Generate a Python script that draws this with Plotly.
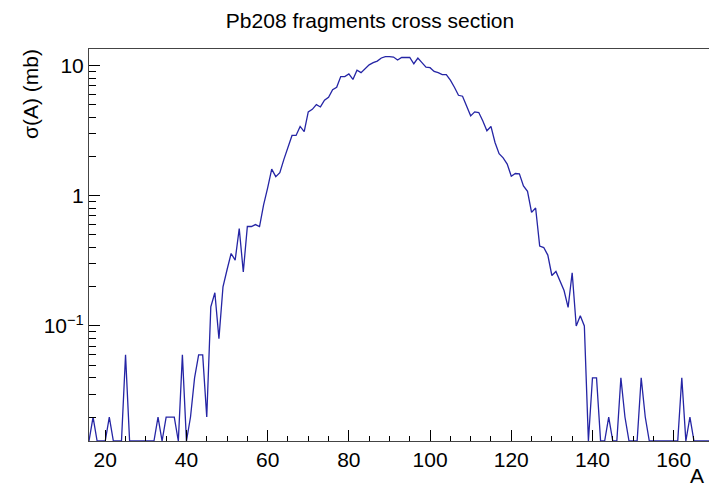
import plotly.graph_objects as go

# ---- data ----
A_first = 16
sigma_mb = [
    0, 0.02, 0, 0, 0, 0.02, 0, 0, 0, 0.06,          # 16-25
    0, 0, 0, 0, 0, 0, 0, 0.02, 0, 0.02,             # 26-35
    0.02, 0.02, 0, 0.06, 0, 0.02, 0.04, 0.06, 0.06, 0.02,  # 36-45
    0.14, 0.18, 0.08, 0.20, 0.27, 0.36, 0.32, 0.56, 0.26, 0.58,  # 46-55
    0.58, 0.60, 0.58, 0.85, 1.15, 1.6, 1.4, 1.5, 1.9, 2.4,  # 56-65
    2.9, 2.9, 3.4, 3.1, 4.4, 4.6, 5.0, 4.8, 5.4, 5.7,  # 66-75
    6.5, 6.8, 8.2, 8.2, 8.6, 7.8, 9.2, 8.8, 9.5, 10.1,  # 76-85
    10.5, 10.8, 11.4, 11.7, 11.7, 11.6, 11.0, 11.5, 11.5, 11.5,  # 86-95
    10.3, 11.4, 10.5, 9.7, 9.6, 9.0, 8.8, 8.5, 8.5, 7.7,  # 96-105
    6.8, 5.9, 5.8, 4.9, 4.1, 4.4, 4.35, 3.75, 3.15, 3.4,  # 106-115
    2.56, 2.1, 1.95, 1.75, 1.41, 1.48, 1.47, 1.19, 1.08, 0.745,  # 116-125
    0.805, 0.41, 0.40, 0.35, 0.244, 0.262, 0.223, 0.187, 0.139, 0.256,  # 126-135
    0.10, 0.12, 0.10, 0, 0.04, 0.04, 0, 0, 0.02, 0,  # 136-145
    0, 0.04, 0.02, 0, 0, 0, 0.04, 0.02, 0, 0,       # 146-155
    0, 0, 0, 0, 0, 0, 0.04, 0, 0.02, 0,             # 156-165
    0, 0, 0, 0,                                     # 166-169
]
mass_numbers = list(range(A_first, A_first + len(sigma_mb)))

x_tick_values = [20, 40, 60, 80, 100, 120, 140, 160]
y_tick_values = [0.1, 1, 10]
y_tick_labels = ["10<sup>\u22121</sup>", "1", "10"]
y_minor_values = [m * d for d in (0.01, 0.1, 1) for m in range(2, 10)]

title_text = "Pb208 fragments cross section"
y_title = "\u03c3(A) (mb)"
x_title = "A"

# ---- axis ranges ----
x_range = [16.0, 168.7]
y_log_range = [-1.883, 1.126]
y_floor = 10 ** y_log_range[0]
y_plot = [v if v > 0 else y_floor for v in sigma_mb]

FONT = "Liberation Sans, Arial, Helvetica, sans-serif"

fig = go.Figure(
    go.Scatter(
        x=mass_numbers, y=y_plot, mode="lines",
        line=dict(color="#2525a5", width=1.3),
        hoverinfo="x+y",
    )
)

fig.update_layout(
    width=709, height=490,
    margin=dict(l=89, r=0, t=49, b=49),
    paper_bgcolor="white", plot_bgcolor="white",
    showlegend=False,
    font=dict(family=FONT, color="black"),
    title=dict(text=title_text, x=370 / 709, xanchor="center", xref="container",
               y=1 - 21 / 490, yanchor="middle", yref="container",
               font=dict(size=21, family=FONT, color="black")),
    xaxis=dict(
        range=x_range, tickvals=x_tick_values, ticks="inside", ticklen=11,
        tickcolor="black", tickwidth=1,
        minor=dict(dtick=5, tick0=0, ticks="inside", ticklen=5, tickcolor="black"),
        showgrid=False, zeroline=False, showline=True, linecolor="#444444",
        linewidth=1, mirror=True,
        tickfont=dict(size=21, family=FONT, color="black"),
    ),
    yaxis=dict(
        type="log", range=y_log_range, tickvals=y_tick_values,
        ticktext=y_tick_labels, ticks="inside", ticklen=11, tickcolor="black",
        minor=dict(tickvals=y_minor_values, ticks="inside", ticklen=7,
                   tickcolor="black", showgrid=False),
        showgrid=False, zeroline=False, showline=True, linecolor="#444444",
        linewidth=1,
        tickfont=dict(size=21, family=FONT, color="black"),
    ),
    annotations=[
        dict(text=y_title, xref="paper", yref="paper", x=(30 - 89) / 620,
             y=(441 - 94) / 392, xanchor="center", yanchor="middle",
             textangle=-90, showarrow=False,
             font=dict(size=21, family=FONT, color="black")),
        dict(text=x_title, xref="paper", yref="paper", x=(706 - 89) / 620,
             y=-(489 - 441) / 392,
             xanchor="right", yanchor="bottom", showarrow=False,
             font=dict(size=21, family=FONT, color="black")),
    ],
)

fig.write_html("out.html")
